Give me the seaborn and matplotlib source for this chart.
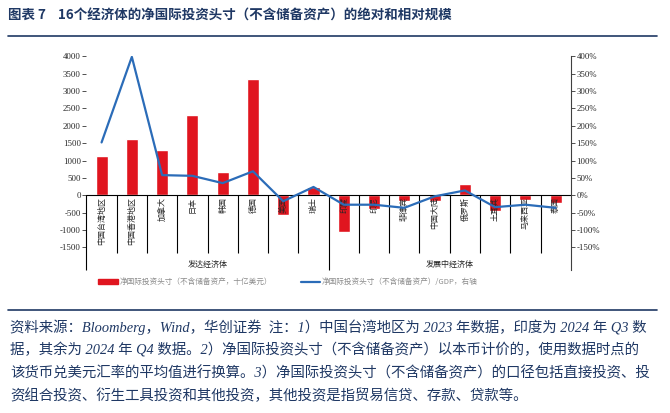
import numpy as np
import matplotlib
matplotlib.use('Agg')
import matplotlib.pyplot as plt
import seaborn as sns
from matplotlib.patches import Patch
from matplotlib.lines import Line2D

sns.set_style('white')
plt.rcParams['font.family'] = ['Noto Sans CJK SC', 'DejaVu Sans']
plt.rcParams['axes.unicode_minus'] = False

# 데이터
countries = ['中国台湾地区', '中国香港地区', '加拿大', '日本', '韩国', '德国', '美国', '瑞士',
             '印度', '印尼', '菲律宾', '中国大陆', '俄罗斯', '土耳其', '马来西亚', '泰国']
groups = ['发达经济体', '发展中经济体']
group_size = [8, 8]
niip = [1140, 1620, 1300, 2300, 670, 3340, -560, 240,
        -1060, -400, -170, -165, 320, -450, -140, -210]   # 十亿美元
niip_gdp = [152, 398, 58, 56, 35, 69, -17, 24,
            -27, -27, -36, -3, 14, -34, -27, -36]       # %
left_ticks = list(range(-1500, 4001, 500))
right_ticks = list(range(-150, 401, 50))

bar_label = '净国际投资头寸（不含储备资产，十亿美元）'
line_label = '净国际投资头寸（不含储备资产）/GDP，右轴'
title = '图表 7    16个经济体的净国际投资头寸（不含储备资产）的绝对和相对规模'
notes = [
    '资料来源：Bloomberg，Wind，华创证券  注：1）中国台湾地区为 2023 年数据，印度为 2024 年 Q3 数',
    '据，其余为 2024 年 Q4 数据。2）净国际投资头寸（不含储备资产）以本币计价的，使用数据时点的',
    '该货币兑美元汇率的平均值进行换算。3）净国际投资头寸（不含储备资产）的口径包括直接投资、投',
    '资组合投资、衍生工具投资和其他投资，其他投资是指贸易信贷、存款、贷款等。',
]

red = '#E0151F'
blue = '#2B6CB8'
navy = '#1F3864'

fig = plt.figure(figsize=(6.7, 4.13), dpi=100)
ax = fig.add_axes([0.129, 0.346, 0.723, 0.518])

# 막대
sns.barplot(x=countries, y=niip, order=countries, color=red, width=0.4,
            saturation=1, ax=ax)
ax.set_xlim(-0.5, 15.5)
ax.set_ylim(-2150, 4000)
ax.set_yticks(left_ticks)
ax.set_xticks([])
ax.set_xlabel('')
ax.set_ylabel('')
for s in ax.spines.values():
    s.set_visible(False)
ax.tick_params(axis='y', left=True, labelsize=6.3, length=3, width=0.6,
               pad=1, color='#333333')
for lb in ax.get_yticklabels():
    lb.set_fontfamily('Liberation Serif')
ax.axhline(0, color='black', lw=0.8, zorder=3)

# 카테고리 구분선
inner = [i + 0.5 for i in range(15) if i != 7]
ax.vlines(inner, -1670, 0, color='black', lw=0.8, clip_on=False)
ax.vlines([-0.5, 7.5], -2150, 0, color='black', lw=0.8, clip_on=False)

for i, name in enumerate(countries):
    ax.text(i, -55, name, rotation=90, ha='center', va='top', fontsize=5.8)

start = 0
for g, n in zip(groups, group_size):
    ax.text(start + (n - 1) / 2, -1990, g, ha='center', va='center', fontsize=5.8)
    start += n

# 꺾은선 (오른쪽 축)
ax2 = ax.twinx()
sns.lineplot(x=np.arange(len(countries)), y=niip_gdp, color=blue, lw=1.6, ax=ax2)
ax2.set_xlim(-0.5, 15.5)
ax2.set_ylim(-215, 400)
ax2.set_yticks(right_ticks)
ax2.set_yticklabels([f'{v}%' for v in right_ticks])
for k in ['top', 'left', 'bottom']:
    ax2.spines[k].set_visible(False)
ax2.spines['right'].set_color('#404040')
ax2.spines['right'].set_linewidth(0.8)
ax2.tick_params(axis='y', right=True, labelsize=6.3, length=3, width=0.6,
                pad=1, color='#333333')
for lb in ax2.get_yticklabels():
    lb.set_fontfamily('Liberation Serif')
ax2.set_ylabel('')

# 범례
handles = [Patch(color=red), Line2D([], [], color=blue, lw=1.6)]
fig.legend(handles, [bar_label, line_label], loc='center', ncol=2,
           bbox_to_anchor=(0.43, 0.317), frameon=False, fontsize=5.5,
           labelcolor='#8c8c8c', handlelength=2.5, handleheight=0.6,
           handletextpad=0.3, columnspacing=3.7)

# 제목, 주석
fig.text(0.012, 1 - 16 / 413, title, fontsize=9.7, color=navy,
         fontweight='bold', va='center', ha='left')
fig.add_artist(Line2D([0.012, 0.981], [1 - 36 / 413, 1 - 36 / 413],
                      color=navy, lw=1.2))
fig.add_artist(Line2D([0.012, 0.981], [1 - 310 / 413, 1 - 310 / 413],
                      color=navy, lw=1.2))
for j, line in enumerate(notes):
    fig.text(0.015, 1 - (327 + 23 * j) / 413, line, fontsize=10.4, color=navy,
             va='center', ha='left',
             family=['Liberation Serif', 'Noto Sans CJK SC'], style='italic')

fig.savefig('out.png', dpi=100)
